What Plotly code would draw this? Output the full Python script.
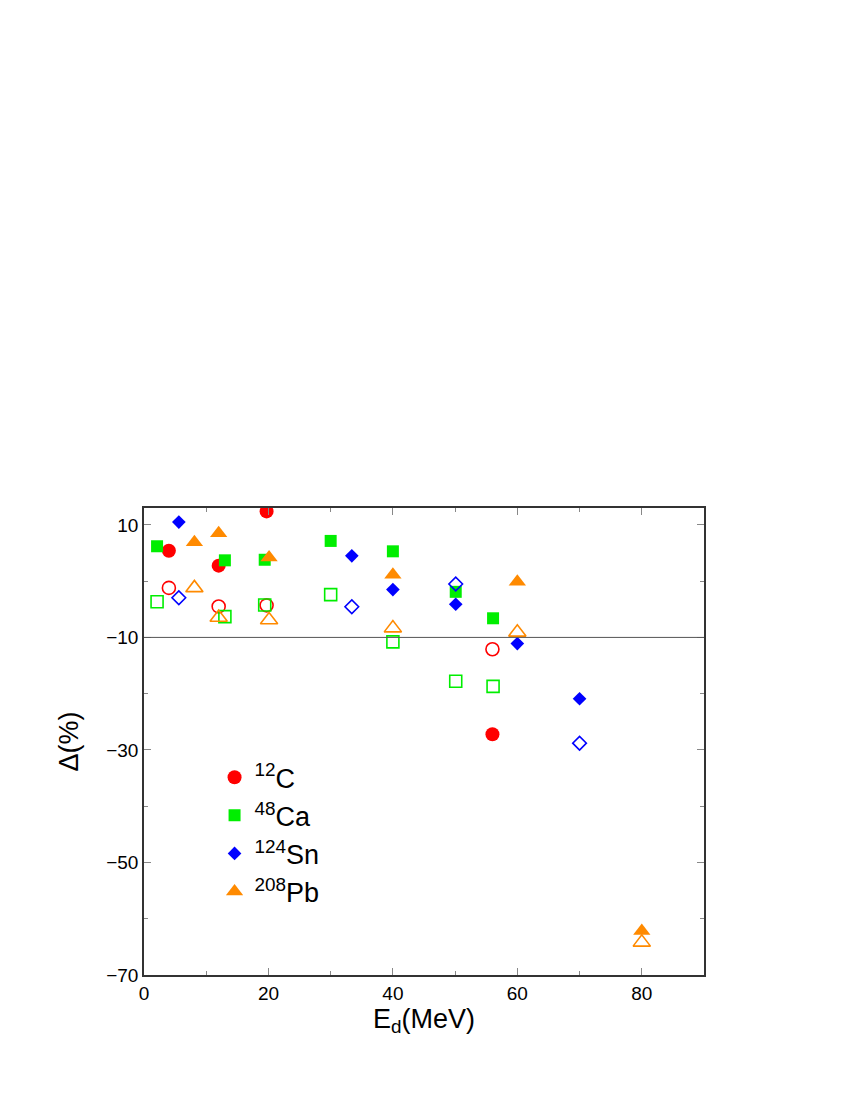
import plotly.graph_objects as go

# ---- data ----
c12_x = [4.0, 12.0, 19.7, 56.0]
c12_full = [5.4, 2.75, 12.4, -27.2]
c12_open = [-1.2, -4.5, -4.3, -12.1]

ca48_x = [2.1, 13.0, 19.4, 30.0, 40.0, 50.1, 56.1]
ca48_full = [6.2, 3.7, 3.8, 7.15, 5.3, -1.9, -6.6]
ca48_open = [-3.65, -6.3, -4.25, -2.4, -10.8, -17.8, -18.7]

sn124_full_x = [5.6, 33.4, 40.0, 50.1, 60.0, 70.0]
sn124_full = [10.5, 4.5, -1.5, -4.1, -11.1, -20.9]
sn124_open_x = [5.6, 33.4, 50.1, 70.0]
sn124_open = [-2.95, -4.55, -0.5, -28.8]

pb208_x = [8.1, 12.0, 20.1, 40.0, 60.0, 80.0]
pb208_full = [6.9, 8.5, 4.2, 1.15, -0.1, -62.2]
pb208_open = [-1.2, -6.45, -6.9, -8.35, -9.1, -64.2]

names = ["<sup>12</sup>C", "<sup>48</sup>Ca", "<sup>124</sup>Sn", "<sup>208</sup>Pb"]
ref_line = -10

RED = "#ff0000"
GREEN = "#00ee00"
BLUE = "#0000ff"
ORANGE = "#ff8a00"

fig = go.Figure()

def add(x, y, name, symbol, color, size, filled, show):
    if filled:
        marker = dict(symbol=symbol, color=color, size=size, line=dict(width=0))
    else:
        marker = dict(symbol=symbol + "-open", color=color, size=size, line=dict(width=1.6, color=color))
    fig.add_trace(go.Scatter(x=x, y=y, mode="markers", name=name, marker=marker,
                             showlegend=show))

add(c12_x, c12_full, names[0], "circle", RED, 14, True, True)
add(ca48_x, ca48_full, names[1], "square", GREEN, 12, True, True)
add(sn124_full_x, sn124_full, names[2], "diamond", BLUE, 10.5, True, True)
add(pb208_x, pb208_full, names[3], "triangle-up", ORANGE, 15, True, True)
add(c12_x, c12_open, names[0], "circle", RED, 13, False, False)
add(ca48_x, ca48_open, names[1], "square", GREEN, 12, False, False)
add(sn124_open_x, sn124_open, names[2], "diamond", BLUE, 10.5, False, False)
add(pb208_x, pb208_open, names[3], "triangle-up", ORANGE, 15, False, False)

fig.add_shape(type="line", xref="paper", x0=0, x1=1, yref="y", y0=ref_line, y1=ref_line,
              line=dict(color="#555555", width=1))

axis_common = dict(
    showgrid=False, zeroline=False, showline=True, linecolor="#333333", linewidth=1.5,
    mirror="ticks", ticks="inside", ticklen=7, tickwidth=1, tickcolor="#888888",
    tickfont=dict(family="Liberation Sans, Arial, sans-serif", size=19, color="black"),
)

fig.update_layout(
    width=850, height=1100,
    margin=dict(l=136, r=154, t=500, b=133),
    paper_bgcolor="white", plot_bgcolor="white",
    font=dict(family="Liberation Sans, Arial, sans-serif", color="black"),
    xaxis=dict(range=[0, 90], tickvals=[0, 20, 40, 60, 80],
               minor=dict(tickvals=[10, 30, 50, 70], ticks="inside", ticklen=4, tickcolor="#888888"),
               title=dict(text="E<sub>d</sub>(MeV)", font=dict(size=27), standoff=0),
               **axis_common),
    yaxis=dict(range=[-70, 13], tickvals=[10, -10, -30, -50, -70],
               minor=dict(tickvals=[0, -20, -40, -60], ticks="inside", ticklen=4, tickcolor="#888888"),
               title=dict(text="Δ(%)", font=dict(size=27), standoff=20),
               **axis_common),
    legend=dict(x=0.126, y=0.475, xanchor="left", yanchor="top",
                bgcolor="rgba(0,0,0,0)", font=dict(size=27), tracegroupgap=0,
                itemwidth=30),
)

fig.write_html("out.html")
